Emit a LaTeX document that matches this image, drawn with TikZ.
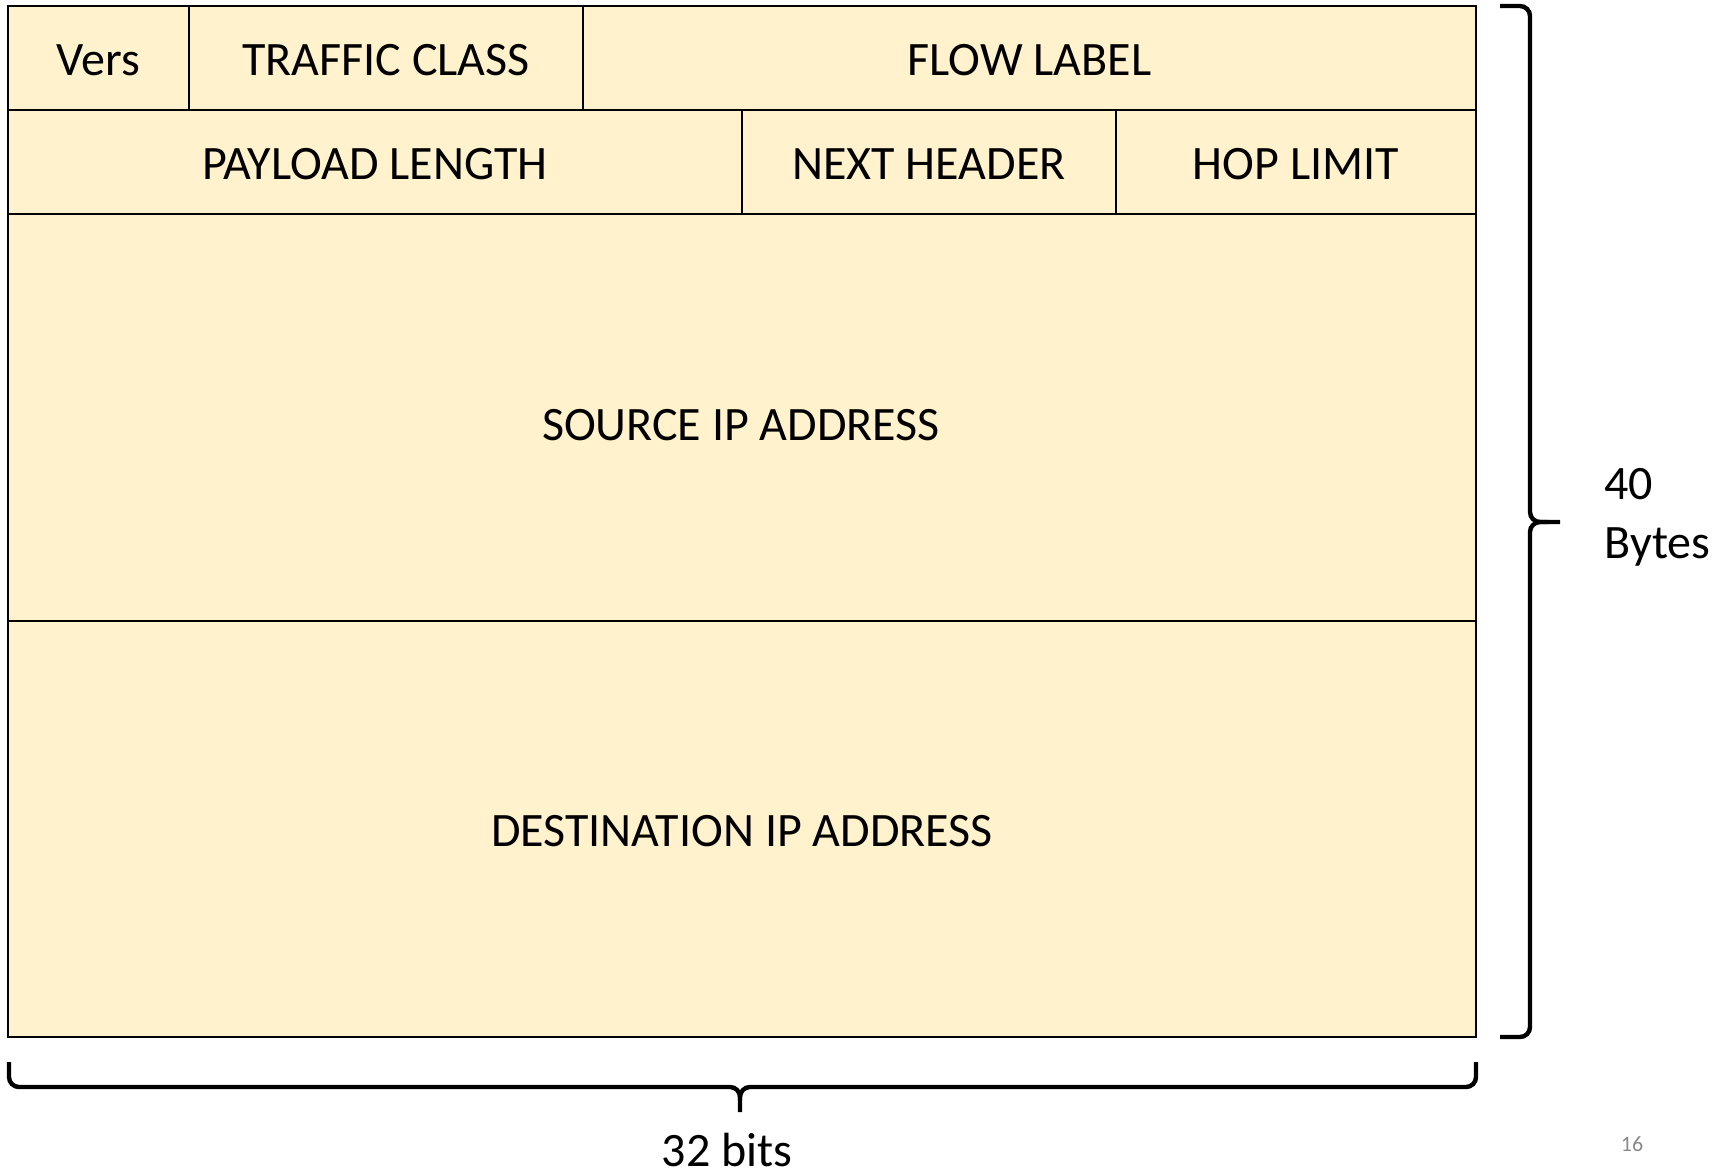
\documentclass[tikz,border=0pt]{standalone}
\usepackage{fontspec}
\setmainfont{Carlito}
\definecolor{cellfill}{HTML}{FFF2CC}
\definecolor{pagenum}{HTML}{8A8A8A}
\begin{document}
\begin{tikzpicture}[x=0.5pt,y=-0.5pt,
  field/.style={fill=cellfill,draw=black,line width=1.25pt},
  fieldtext/.style={font=\fontsize{24pt}{28pt}\selectfont,inner sep=0pt,yshift=-1.1pt},
  brace/.style={draw=black,line width=2.2pt,rounded corners=5pt},
  lbl/.style={font=\fontsize{24pt}{28pt}\selectfont,inner sep=0pt}]
\useasboundingbox (0,0) rectangle (1729,1174);

% row 1
\draw[field] (8,6) rectangle (189,110) node[fieldtext,midway,name=vers] {Vers};
\draw[field] (189,6) rectangle (583,110) node[fieldtext,midway,name=tclass] {TRAFFIC CLASS};
\draw[field] (583,6) rectangle (1476,110) node[fieldtext,midway,name=flow] {FLOW LABEL};
% row 2
\draw[field] (8,110) rectangle (742,214) node[fieldtext,midway,name=plen] {PAYLOAD LENGTH};
\draw[field] (742,110) rectangle (1116,214) node[fieldtext,midway,name=nhdr] {NEXT HEADER};
\draw[field] (1116,110) rectangle (1476,214) node[fieldtext,midway,name=hop] {HOP LIMIT};
% addresses
\draw[field] (8,214) rectangle (1476,621);
\node[fieldtext,name=src] at (741,423) {SOURCE IP ADDRESS};
\draw[field] (8,621) rectangle (1476,1037) node[fieldtext,midway,name=dst] {DESTINATION IP ADDRESS};

% right brace: header length
\draw[brace] (1500,6) -- (1530,6) -- (1530,522) -- (1560,522);
\draw[brace] (1548,522) -- (1530,522) -- (1530,1037) -- (1500,1037);
\node[lbl,anchor=base west,name=lenval] at (1604,499) {40};
\node[lbl,anchor=base west,name=lenunit] at (1604,558) {Bytes};

% bottom brace: word width
\draw[brace] (9,1062) -- (9,1087) -- (740,1087) -- (740,1112);
\draw[brace] (1476,1062) -- (1476,1087) -- (740,1087) -- (740,1100);
\node[lbl,anchor=base,name=width] at (727,1166) {32 bits};

% page number
\node[font=\fontsize{11pt}{13pt}\selectfont,text=pagenum,inner sep=0pt,anchor=base,name=page] at (1632,1151) {16};
\end{tikzpicture}
\end{document}
